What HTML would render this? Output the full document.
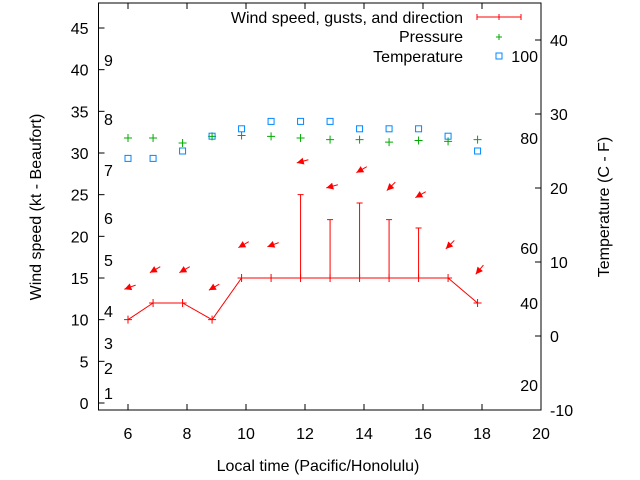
<!DOCTYPE html>
<html><head><meta charset="utf-8"><style>
body{margin:0;background:#fff}
svg{display:block;font-family:"Liberation Sans",sans-serif;font-size:16px}
</style></head><body>
<svg id="c" width="640" height="480"></svg>
<script>
const hours=[6,6.85,7.85,8.85,9.85,10.85,11.85,12.85,13.85,14.85,15.85,16.85,17.85];
const wind=[10,12,12,10,15,15,15,15,15,15,15,15,12];
const gusts=[null,null,null,null,null,null,25,22,24,22,21,null,null];
const pressure=[31.8,31.8,31.2,32,32.1,32,31.8,31.6,31.6,31.3,31.5,31.4,31.6];
const tempC=[24,24,25,27,28,29,29,29,28,28,28,27,25];
const arrowY=[13.9,16,16,13.9,19,19,29,26,28,26,25,19,16];
const arrowDir=[70,60,60,60,60,70,75,75,60,45,60,45,40];
const xTicks=[6,8,10,12,14,16,18,20];
const yTicks=[0,5,10,15,20,25,30,35,40,45];
const y2Ticks=[-10,0,10,20,30,40];
const beaufort=[[1,393],[2,368],[3,343],[4,311],[5,260],[6,218],[7,170],[8,119],[9,60]];
const fahr=[[20,385],[40,303],[60,248],[80,138],[100,56]];
const L=98.5,R=541,T=3,B=410;
const X=v=>L+(v-5)*(R-L)/15;
const Y=v=>403-v*375/45;
const Y2=v=>410-(v+10)*7.4;
const s=document.getElementById('c');
function el(t,a,txt){const e=document.createElementNS('http://www.w3.org/2000/svg',t);for(const k in a)e.setAttribute(k,a[k]);if(txt!==undefined)e.textContent=txt;s.appendChild(e);return e;}
let e;
e=el('rect',{x:L,y:T,width:R-L,height:B-T,fill:'none',stroke:'#000'});


xTicks.forEach(v=>{const x=X(v);
 el('line',{x1:x,x2:x,y1:B,y2:B-6,stroke:'#000'});el('line',{x1:x,x2:x,y1:T,y2:T+6,stroke:'#000'});
 e=el('text',{x:x,y:B+29,'text-anchor':'middle'},v);
 
 });
yTicks.forEach(v=>{const y=Y(v);el('line',{x1:L,x2:L+6,y1:y,y2:y,stroke:'#000'});
 e=el('text',{x:L-10,y:y+6,'text-anchor':'end'},v);
 
 });
y2Ticks.forEach(v=>{const y=Y2(v);el('line',{x1:R,x2:R-6,y1:y,y2:y,stroke:'#000'});
 e=el('text',{x:R+9,y:y+6},v);
 
 });
beaufort.forEach(b=>{e=el('text',{x:104,y:b[1]+6},b[0]);
 
 });
fahr.forEach(f=>{e=el('text',{x:538,y:f[1]+6,'text-anchor':'end'},f[0]);
 
 });
e=el('text',{x:318,y:471,'text-anchor':'middle'},'Local time (Pacific/Honolulu)');


e=el('text',{x:0,y:0,'text-anchor':'middle',transform:'translate(41,207) rotate(-90)'},'Wind speed (kt - Beaufort)');


e=el('text',{x:0,y:0,'text-anchor':'middle',transform:'translate(609,207) rotate(-90)'},'Temperature (C - F)');


e=el('polyline',{points:hours.map((h,i)=>X(h)+','+Y(wind[i])).join(' '),fill:'none',stroke:'#f00'});


hours.forEach((h,i)=>{const x=X(h),y=Y(wind[i]);
 el('path',{d:`M${x-4},${y}h8M${x},${y-4}v8`,stroke:'#f00'});
 if(gusts[i]!=null){const g=Y(gusts[i]);
  e=el('path',{d:`M${x},${y}V${g}M${x-3},${g}h6`,stroke:'#f00',fill:'none'});
  
  }
 const a=arrowDir[i]*Math.PI/180,cx=x+2,cy=Y(arrowY[i]);
 const dx=Math.sin(a)*6,dy=-Math.cos(a)*6;
 const tx=cx-dx,ty=cy-dy;const ux=-dx/6,uy=-dy/6;
 e=el('g',{});
 
 
 const ln=document.createElementNS('http://www.w3.org/2000/svg','line');
 ln.setAttribute('x1',cx+dx);ln.setAttribute('y1',cy+dy);ln.setAttribute('x2',tx);ln.setAttribute('y2',ty);ln.setAttribute('stroke','#f00');e.appendChild(ln);
 const p=document.createElementNS('http://www.w3.org/2000/svg','polygon');
 const bx=tx-ux*7,by=ty-uy*7;
 p.setAttribute('points',`${tx},${ty} ${bx-uy*3.5},${by+ux*3.5} ${bx+uy*3.5},${by-ux*3.5}`);p.setAttribute('fill','#f00');e.appendChild(p);
 const py=Y(pressure[i]);
 e=el('path',{d:`M${x-4},${py}h8M${x},${py-4}v8`,stroke:'#0a0'});
 
 
 const ty2=Y2(tempC[i]);
 e=el('rect',{x:x-3,y:ty2-3,width:6,height:6,fill:'none',stroke:'#08f'});
 
 
});
e=el('text',{x:463,y:23,'text-anchor':'end'},'Wind speed, gusts, and direction');


el('path',{d:'M477,17h44M477,14v6M521,14v6M499,14v6',stroke:'#f00'});
e=el('text',{x:463,y:42,'text-anchor':'end'},'Pressure');


el('path',{d:'M496,37h6M499,34v6',stroke:'#0a0'});
e=el('text',{x:463,y:62,'text-anchor':'end'},'Temperature');


el('rect',{x:496,y:53,width:6,height:6,fill:'none',stroke:'#08f'});
</script>
</body></html>
